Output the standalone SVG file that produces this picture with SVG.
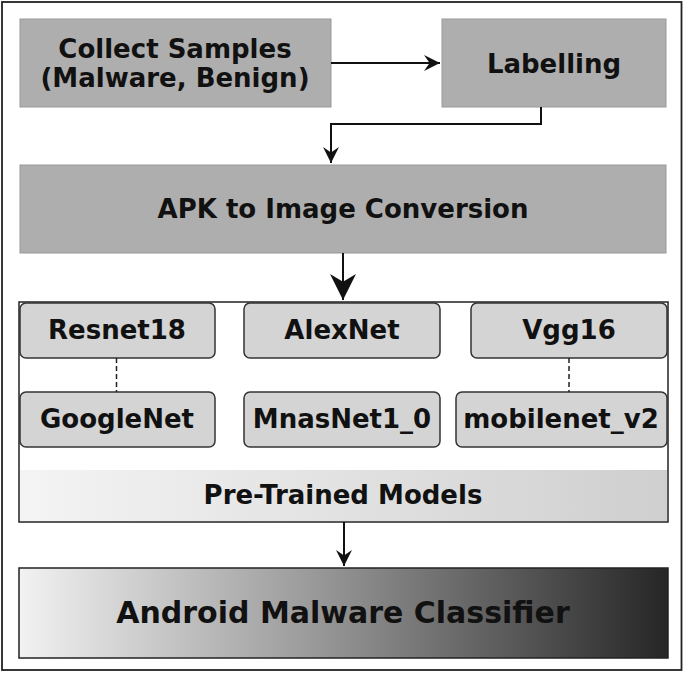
<svg xmlns="http://www.w3.org/2000/svg" width="685" height="673" viewBox="0 0 685 673">
<defs>
<marker id="ah" viewBox="0 0 10 10" refX="10" refY="5" markerWidth="18" markerHeight="16" markerUnits="userSpaceOnUse" orient="auto"><path d="M0,0 L10,5 L0,10 L3.5,5 Z" fill="#111"/></marker>
<marker id="ahb" viewBox="0 0 10 10" refX="10" refY="5" markerWidth="26" markerHeight="26" markerUnits="userSpaceOnUse" orient="auto"><path d="M0,0 L10,5 L0,10 L3,5 Z" fill="#111"/></marker>
<linearGradient id="gBar" x1="0" x2="1" y1="0" y2="0"><stop offset="0" stop-color="#f4f4f4"/><stop offset="1" stop-color="#cfcfcf"/></linearGradient>
<linearGradient id="gCls" x1="0" x2="1" y1="0" y2="0"><stop offset="0" stop-color="#f2f2f2"/><stop offset="0.45" stop-color="#9a9a9a"/><stop offset="1" stop-color="#262626"/></linearGradient>
</defs>
<style>
.t{font-family:"DejaVu Sans",sans-serif;font-weight:bold;fill:#111;text-anchor:middle}
.step{fill:#aeaeae;stroke:#999;stroke-width:1}
.model{fill:#d4d4d4;stroke:#333;stroke-width:1.5}
.conn{fill:none;stroke:#111;stroke-width:2}
</style>
<rect x="2" y="2" width="679.5" height="668" fill="#fff" stroke="#222" stroke-width="1.8"/>
<g id="collect"><rect class="step" x="20" y="19" width="311" height="88"/><text class="t" x="175" y="58" font-size="26">Collect Samples</text><text class="t" x="175" y="87" font-size="26">(Malware, Benign)</text></g>
<g id="labelling"><rect class="step" x="442" y="19" width="224" height="88"/><text class="t" x="554" y="73" font-size="26">Labelling</text></g>
<g id="apk"><rect class="step" x="20" y="165" width="646" height="88"/><text class="t" x="343" y="218" font-size="26">APK to Image Conversion</text></g>
<g id="pretrained"><rect x="19" y="302" width="649" height="220" fill="#fff" stroke="#222" stroke-width="1.5"/><rect x="20" y="470" width="647" height="51" fill="url(#gBar)"/><text class="t" x="343" y="504" font-size="26">Pre-Trained Models</text></g>
<g id="resnet18"><rect class="model" x="20" y="303" width="195" height="55" rx="6"/><text class="t" x="117" y="339" font-size="26">Resnet18</text></g>
<g id="alexnet"><rect class="model" x="244" y="303" width="196" height="55" rx="6"/><text class="t" x="342" y="339" font-size="26">AlexNet</text></g>
<g id="vgg16"><rect class="model" x="471" y="303" width="196" height="55" rx="6"/><text class="t" x="569" y="339" font-size="26">Vgg16</text></g>
<g id="googlenet"><rect class="model" x="20" y="392" width="195" height="55" rx="6"/><text class="t" x="117" y="428" font-size="26">GoogleNet</text></g>
<g id="mnasnet"><rect class="model" x="244" y="392" width="196" height="55" rx="6"/><text class="t" x="342" y="428" font-size="26">MnasNet1_0</text></g>
<g id="mobilenet"><rect class="model" x="456" y="392" width="211" height="55" rx="6"/><text class="t" x="561" y="428" font-size="26">mobilenet_v2</text></g>
<g id="classifier"><rect x="19" y="568" width="649" height="90" fill="url(#gCls)" stroke="#222" stroke-width="1.5"/><text class="t" x="343" y="623" font-size="30">Android Malware Classifier</text></g>
<g id="connectors">
<line class="conn" x1="331" y1="63" x2="440" y2="63" marker-end="url(#ah)" stroke-width="1.8"/>
<path class="conn" d="M541,107 V124 H331 V163" marker-end="url(#ah)" stroke-width="1.8"/>
<line class="conn" x1="343" y1="253" x2="343" y2="300" marker-end="url(#ahb)" stroke-width="4"/>
<line class="conn" x1="344" y1="522" x2="344" y2="566" marker-end="url(#ah)" stroke-width="1.8"/>
<line x1="116.5" y1="358" x2="116.5" y2="392" stroke="#222" stroke-width="1.5" stroke-dasharray="5,3"/>
<line x1="569" y1="358" x2="569" y2="392" stroke="#222" stroke-width="1.5" stroke-dasharray="5,3"/>
</g>
</svg>
